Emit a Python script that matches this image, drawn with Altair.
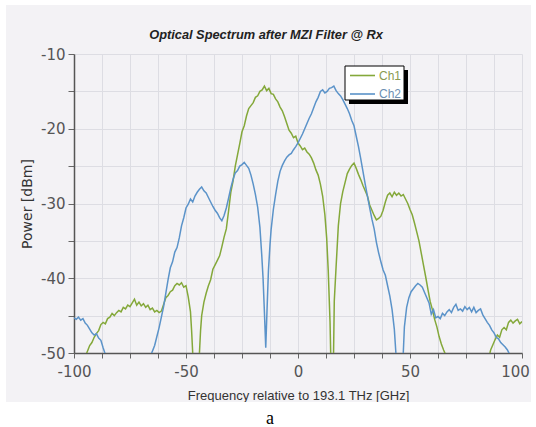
import altair as alt
import pandas as pd

series_names = ["Ch1", "Ch2"]
series_colors = ["#84a83a", "#5b93c9"]
label_colors = ["#8a9a50", "#6d8fb3"]

ch1_freq = [-95.5, -94.3, -93, -92, -91, -90, -89, -88, -87, -86, -85, -84, -83, -82, -81, -80,
            -79, -78, -77, -76, -75, -74, -73, -72, -71, -70, -69, -68, -67, -66, -65, -64, -63,
            -62, -61, -60, -59, -58, -57, -56, -55, -54, -53, -52, -51, -50, -49, -48, -47.5, -47,
            -46.5, -44.5, -44, -43.5, -43, -42, -41, -40, -39, -38, -37, -36, -35, -34, -33, -32,
            -31, -30, -29, -28, -27, -26, -25, -24, -23, -22, -21, -20, -19, -18, -17, -16, -15,
            -14, -13, -12, -11, -10, -9, -8, -7, -6, -5, -4, -3, -2, -1, 0, 1, 2, 3, 4, 5, 6, 7,
            8, 9, 10, 11, 12, 12.8, 13.5, 14.3, 15, 15.6, 16.2, 17, 18, 19, 20, 21, 22, 23, 24, 25,
            26, 27, 28, 29, 30, 31, 32, 33, 34, 35, 36, 37, 38, 39, 40, 41, 42, 43, 44, 45, 46, 47,
            48, 49, 50, 51, 52, 53, 54, 55, 56, 57, 58, 59, 60, 61, 62, 63, 64, 65, 66, 67, 84.5,
            85.7, 86, 87, 88, 89, 90, 91, 92, 93, 94, 95, 96, 97, 98, 99, 100]
ch1_power = [-52, -50, -49.0, -48.6, -47.9, -47.4, -47.0, -46.2, -45.9, -46.1, -45.4, -45.2, -44.7,
             -45.0, -44.6, -44.3, -44.5, -43.9, -44.1, -43.6, -43.8, -43.3, -42.8, -43.6, -43.2,
             -43.7, -43.4, -43.9, -43.6, -44.2, -44.0, -44.5, -44.3, -44.6, -44.4, -43.5, -42.6,
             -42.3, -41.8, -41.6, -41.0, -40.7, -40.9, -40.6, -41.2, -41.0, -42.5, -44.5, -47,
             -50, -56, -56, -50, -47, -45, -43.2, -42.0, -41.0, -40.2, -38.8, -38.2, -37.6, -37.0,
             -35.8, -34.5, -33.4, -31.0, -28.5, -27.0, -25.0, -23.5, -22.0, -20.4, -19.6, -18.3,
             -17.3, -16.9, -16.5, -15.8, -15.6, -15.0, -14.8, -14.3, -14.9, -14.6, -15.3, -15.4,
             -16.0, -16.4, -17.1, -17.6, -18.4, -19.3, -20.2, -20.6, -21.2, -21.0, -21.9, -22.3,
             -22.8, -22.6, -23.1, -23.4, -23.9, -24.6, -25.5, -26.2, -27.4, -29.0, -31.5, -34.6,
             -39, -45.8, -56, -56, -43, -38.5, -33.0, -30.0, -28.4, -27.2, -26.0, -25.4, -24.9,
             -24.6, -25.3, -26.1, -26.8, -27.6, -28.3, -29.0, -30.2, -30.9, -31.6, -32.2, -32.0,
             -31.7, -30.9, -29.8, -28.9, -28.6, -29.1, -28.5, -28.9, -28.6, -29.0, -28.8, -29.4,
             -30.0, -30.8, -31.5, -32.6, -33.8, -35.0, -36.6, -38.2, -39.8, -41.5, -43.1, -44.2,
             -45.5, -46.5, -47.8, -48.8, -49.6, -50.3, -52, -52, -50, -49.6, -48.9, -48.2, -47.6,
             -47.9, -46.9, -46.6, -46.9, -45.9, -45.6, -46.0, -45.7, -45.5, -46.1, -45.8]

ch2_freq = [-100, -99, -98, -97, -96, -95, -94, -93, -92, -91, -90, -89, -88, -87, -86, -85, -66,
            -65.3, -64, -63, -62, -61, -60, -59, -58, -57, -56, -55, -54, -53, -52, -51, -50, -49,
            -48, -47, -46, -45, -44, -43, -42, -41, -40, -39, -38, -37, -36, -35, -34, -33, -32,
            -31, -30, -29, -28, -27, -26, -25, -24, -23, -22, -21, -20, -19, -18, -17, -16.2,
            -15.6, -15.0, -14.4, -13.8, -13.2, -12.5, -12, -11, -10, -9, -8, -7, -6, -5, -4, -3,
            -2, -1, 0, 1, 2, 3, 4, 5, 6, 7, 8, 9, 10, 11, 12, 13, 14, 15, 16, 17, 18, 19, 20, 21,
            22, 23, 24, 25, 26, 27, 28, 29, 30, 31, 32, 33, 34, 35, 36, 37, 38, 39, 40, 41, 42, 43,
            43.7, 44, 46.5, 47, 47.5, 48.5, 49.5, 50.5, 51.5, 52.5, 53.5, 54.5, 55.5, 56.5, 57.5,
            58.5, 59.5, 60.5, 61.5, 62.5, 63.5, 64.5, 65.5, 66.5, 67.5, 68.5, 69.5, 70.5, 71.5,
            72.5, 73.5, 74.5, 75.5, 76.5, 77.5, 78.5, 79.5, 80.5, 81.5, 82.5, 83.5, 84.5, 85.5,
            86.5, 87.5, 88.5, 89.5, 90.5, 91.5, 92.5, 93.5, 94.5, 95.5]
ch2_power = [-45.3, -45.5, -45.2, -45.6, -45.4, -46.0, -46.3, -46.8, -47.3, -47.6, -47.4, -48.0,
             -48.3, -49.3, -50.2, -52, -52, -50, -49.0, -47.8, -46.6, -45.2, -43.8, -42.0, -40.2,
             -38.6, -37.8, -36.5, -35.9, -34.6, -33.0, -31.9, -30.6, -30.1, -29.4, -29.8, -29.0,
             -28.5, -28.1, -27.8, -28.3, -28.6, -29.2, -29.8, -30.4, -30.9, -31.3, -31.9, -32.3,
             -31.6, -30.6, -29.3, -27.9, -26.8, -25.9, -25.6, -25.0, -24.8, -24.5, -24.9, -25.3,
             -26.2, -27.4, -28.8, -30.5, -33.2, -36.8, -40, -44.5, -49.3, -44, -39, -35.5, -33.5,
             -30.8, -28.8, -27.0, -25.7, -24.9, -24.3, -23.8, -23.5, -23.3, -22.8, -22.4, -21.9,
             -21.3, -20.7, -20.0, -19.3, -18.6, -18.0, -17.2, -16.4, -15.8, -15.0, -14.8, -15.2,
             -15.0, -14.6, -14.5, -14.3, -14.9, -15.3, -15.6, -16.1, -16.7, -17.3, -18.0, -18.9,
             -19.6, -21.0, -22.4, -24.0, -25.7, -27.4, -29.0, -30.6, -32.1, -33.4, -35.2, -36.6,
             -37.8, -38.9, -39.6, -41.0, -42.4, -44.2, -46.8, -50, -56, -56, -50, -46.5, -43.9,
             -42.6, -41.8, -41.4, -41.0, -40.7, -40.9, -41.2, -41.9, -42.6, -43.3, -44.8, -44.2,
             -45.3, -45.1, -45.4, -44.7, -45.0, -44.5, -44.2, -44.6, -43.9, -43.5, -44.3, -44.1,
             -44.4, -43.8, -44.2, -43.9, -44.5, -43.9, -44.6, -44.3, -44.1, -44.9, -45.4, -45.9,
             -46.3, -46.9, -47.3, -47.9, -48.1, -48.6, -48.9, -49.2, -49.6, -50.2, -51]

x_grid = [-100, -87.5, -75, -62.5, -50, -37.5, -25, -12.5, 0, 12.5, 25, 37.5, 50, 62.5, 75, 87.5, 100]
y_grid = [-50, -45, -40, -35, -30, -25, -20, -15, -10]

title_text = "Optical Spectrum after MZI Filter @ Rx"
x_title = "Frequency relative to 193.1 THz [GHz]"
y_title = "Power [dBm]"
caption = "a"

rows = []
for name, fs, ps in [(series_names[0], ch1_freq, ch1_power), (series_names[1], ch2_freq, ch2_power)]:
    for i, (f, p) in enumerate(zip(fs, ps)):
        rows.append({"series": name, "freq": f, "power": p, "idx": i})
df = pd.DataFrame(rows)

W, H = 448, 299
OX, OY = 74, 54  # plot origin in page pixels

lines = alt.Chart(df).mark_line(strokeWidth=1.5, clip=True).encode(
    x=alt.X("freq:Q", scale=alt.Scale(domain=[-100, 100], nice=False),
            axis=alt.Axis(values=x_grid, title=x_title,
                          labelExpr="datum.value % 50 == 0 ? '' + datum.value : ''",
                          tickSize=5, labelPadding=6, labelFlush=False,
                          labelOffset={"condition": {"test": "datum.value == 100", "value": -7}, "value": 0},
                          titleY=46, titleBaseline="alphabetic",
                          titleFont="Liberation Sans", titleFontSize=13)),
    y=alt.Y("power:Q", scale=alt.Scale(domain=[-50, -10], nice=False, zero=False),
            axis=alt.Axis(values=y_grid, title=y_title,
                          labelExpr="datum.value % 10 == 0 ? '' + datum.value : ''",
                          tickSize=6, labelPadding=3, labelFlush=False,
                          titleX=-47, titleY=H / 2, titleBaseline="middle", titleAlign="center",
                          titleFont="DejaVu Sans", titleFontSize=14)),
    color=alt.Color("series:N", scale=alt.Scale(domain=series_names, range=series_colors), legend=None),
    order=alt.Order("idx:Q"),
)

one = pd.DataFrame({"k": [0]})
base = alt.Chart(one)

def rect(x1, y1, x2, y2, fill, **kw):
    return base.mark_rect(fill=fill, **kw).encode(
        x=alt.value(x1 - OX), x2=alt.value(x2 - OX), y=alt.value(y1 - OY), y2=alt.value(y2 - OY))

# white page margins around the grey chart frame
strips = [
    rect(0, 0, 536, 5, "white"),
    rect(0, 0, 6, 427, "white"),
    rect(531, 0, 536, 427, "white"),
    rect(0, 402, 536, 427, "white"),
]

# chart title (drawn as text so that it sits inside the grey frame)
title = base.mark_text(align="center", baseline="alphabetic", fontSize=12.8, font="Liberation Sans",
                       fontStyle="italic", fontWeight="bold", color="#222").encode(
    x=alt.value(266 - OX), y=alt.value(39 - OY), text=alt.value(title_text))

# legend box
leg_df = pd.DataFrame({"series": series_names, "ypix": [75.5 - OY, 94 - OY],
                       "lc": label_colors})
shadow = rect(349, 70, 408, 104, "black")
box = rect(345, 66, 404, 100, "white", stroke="black", strokeWidth=1)
leg_lines = alt.Chart(leg_df).mark_rule(strokeWidth=1.6).encode(
    x=alt.value(350 - OX), x2=alt.value(375 - OX), y=alt.Y("ypix:Q", scale=None),
    color=alt.Color("series:N", scale=alt.Scale(domain=series_names, range=series_colors), legend=None))
leg_text = alt.Chart(leg_df).mark_text(align="left", baseline="middle", fontSize=12,
                                       font="Liberation Sans").encode(
    x=alt.value(379 - OX), y=alt.Y("ypix:Q", scale=None), text="series:N",
    color=alt.Color("lc:N", scale=None))

cap = base.mark_text(align="center", baseline="alphabetic", fontSize=18, font="Liberation Serif",
                     color="black").encode(x=alt.value(270 - OX), y=alt.value(424 - OY),
                                           text=alt.value(caption))

chart = alt.layer(lines, *strips, title, shadow, box, leg_lines, leg_text, cap).properties(
    width=W, height=H,
    autosize=alt.AutoSizeParams(type="none"),
    padding={"left": OX, "top": OY, "right": 536 - OX - W, "bottom": 427 - OY - H},
    background="#f3f2f5",
).configure_view(stroke="transparent", fill="#f3f2f5").configure_axis(
    domainColor="#555", domainWidth=1.5, tickColor="#666", gridColor="#dddde3", gridWidth=1,
    labelFont="DejaVu Sans", labelFontSize=15, labelColor="#555", titleColor="#333",
    titleFontWeight="normal",
)

chart.save("out.html", embed_options={"renderer": "svg", "actions": False})
